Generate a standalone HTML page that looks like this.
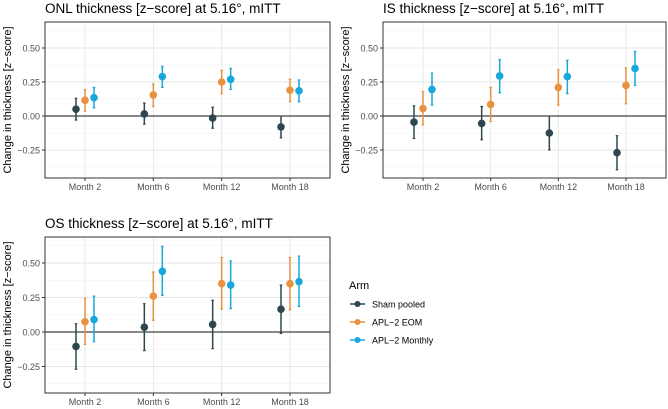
<!DOCTYPE html>
<html><head><meta charset="utf-8"><style>
body{margin:0;background:#fff;}
svg{display:block;font-family:"Liberation Sans",sans-serif;}
</style></head><body>
<svg id="chart" width="668" height="409" viewBox="0 0 668 409"></svg>
<script>
const categories=["Month 2","Month 6","Month 12","Month 18"];
const arms=["Sham pooled","APL-2 EOM","APL-2 Monthly"];
const colors=["#2e4650","#e8913f","#17a7db"];
const yTicks=[0.5,0.25,0,-0.25];
const yTickLabels=["0.50","0.25","0.00","-0.25"];
const panelTitles=["ONL thickness [z\u2212score] at 5.16°, mITT","IS thickness [z\u2212score] at 5.16°, mITT","OS thickness [z\u2212score] at 5.16°, mITT"];
// ONL
const onlSham=[0.05,0.015,-0.015,-0.08], onlShamLo=[-0.03,-0.06,-0.09,-0.16], onlShamHi=[0.13,0.095,0.065,0];
const onlEom=[0.115,0.155,0.25,0.19], onlEomLo=[0.035,0.07,0.165,0.105], onlEomHi=[0.195,0.235,0.335,0.27];
const onlMon=[0.135,0.29,0.27,0.185], onlMonLo=[0.06,0.21,0.195,0.105], onlMonHi=[0.21,0.365,0.35,0.265];
// IS
const isSham=[-0.045,-0.055,-0.125,-0.27], isShamLo=[-0.165,-0.175,-0.25,-0.395], isShamHi=[0.075,0.07,0,-0.145];
const isEom=[0.055,0.085,0.21,0.225], isEomLo=[-0.065,-0.04,0.08,0.09], isEomHi=[0.18,0.21,0.34,0.355];
const isMon=[0.195,0.295,0.29,0.35], isMonLo=[0.08,0.17,0.165,0.225], isMonHi=[0.315,0.415,0.41,0.475];
// OS
const osSham=[-0.105,0.035,0.055,0.165], osShamLo=[-0.27,-0.135,-0.12,-0.01], osShamHi=[0.06,0.205,0.23,0.34];
const osEom=[0.075,0.26,0.35,0.35], osEomLo=[-0.09,0.085,0.165,0.16], osEomHi=[0.245,0.435,0.54,0.54];
const osMon=[0.09,0.44,0.34,0.365], osMonLo=[-0.07,0.265,0.17,0.185], osMonHi=[0.26,0.62,0.515,0.55];

const panelsData=[
 [[onlSham,onlShamLo,onlShamHi],[onlEom,onlEomLo,onlEomHi],[onlMon,onlMonLo,onlMonHi]],
 [[isSham,isShamLo,isShamHi],[isEom,isEomLo,isEomHi],[isMon,isMonLo,isMonHi]],
 [[osSham,osShamLo,osShamHi],[osEom,osEomLo,osEomHi],[osMon,osMonLo,osMonHi]]
];
const NS="http://www.w3.org/2000/svg";
const svg=document.getElementById('chart');
function mk(tag,attrs,parent,text){const e=document.createElementNS(NS,tag);for(const k in attrs)e.setAttribute(k,attrs[k]);if(text!==undefined)e.textContent=text;(parent||svg).appendChild(e);return e;}
const layouts=[{l:45,r:330,t:22,b:178,zero:116,unit:136},{l:383,r:666,t:22,b:178,zero:116,unit:136},{l:45,r:330,t:237,b:393,zero:332,unit:138}];
layouts.forEach((L,pi)=>{
  const g=mk('g',{});
  
  
  const y=v=>L.zero-v*L.unit;
  const step=(L.r-L.l-80)/(categories.length-1);
  const x=i=>L.l+40+i*step;
  const t=mk('text',{x:L.l,y:L.t-9,'font-size':13.5,fill:'#000'},g,panelTitles[pi]);
  
  
  [0.625,0.375,0.125,-0.125,-0.375].forEach(v=>mk('line',{x1:L.l,x2:L.r,y1:y(v),y2:y(v),stroke:'#f0f0f0','stroke-width':0.6},g));
  yTicks.forEach(v=>mk('line',{x1:L.l,x2:L.r,y1:y(v),y2:y(v),stroke:'#e6e6e6','stroke-width':0.9},g));
  categories.forEach((c,i)=>mk('line',{x1:x(i),x2:x(i),y1:L.t,y2:L.b,stroke:'#e6e6e6','stroke-width':0.9},g));
  mk('line',{x1:L.l,x2:L.r,y1:y(0),y2:y(0),stroke:'#111','stroke-width':1.1},g);
  mk('rect',{x:L.l,y:L.t,width:L.r-L.l,height:L.b-L.t,fill:'none',stroke:'#333','stroke-width':1},g);
  yTicks.forEach((v,i)=>{mk('line',{x1:L.l-3,x2:L.l,y1:y(v),y2:y(v),stroke:'#333'},g);
    const tl=mk('text',{x:L.l-5,y:y(v)+3.5,'font-size':9,fill:'#4d4d4d','text-anchor':'end'},g,yTickLabels[i].replace('-','\u2212'));
    
    });
  categories.forEach((c,i)=>{mk('line',{x1:x(i),x2:x(i),y1:L.b,y2:L.b+3,stroke:'#333'},g);
    const tl=mk('text',{x:x(i),y:L.b+12,'font-size':9,fill:'#4d4d4d','text-anchor':'middle'},g,c);
    
    });
  const yc=(L.t+L.b)/2, ax=L.l-37;
  const at=mk('text',{x:ax,y:yc,'font-size':11,fill:'#000','text-anchor':'middle','dominant-baseline':'middle',transform:`rotate(-90 ${ax} ${yc})`},g,'Change in thickness [z\u2212score]');
  
  
  panelsData[pi].forEach((s,si)=>{
    const [m,lo,hi]=s;
    m.forEach((v,i)=>{
      const px=x(i)+(si-1)*9;
      const eb=mk('g',{},g);
      
      
      mk('line',{x1:px,x2:px,y1:y(lo[i]),y2:y(hi[i]),stroke:colors[si],'stroke-width':1.5},eb);
      mk('line',{x1:px-1.3,x2:px+1.3,y1:y(lo[i]),y2:y(lo[i]),stroke:colors[si],'stroke-width':1.2},eb);
      mk('line',{x1:px-1.3,x2:px+1.3,y1:y(hi[i]),y2:y(hi[i]),stroke:colors[si],'stroke-width':1.2},eb);
      const c=mk('circle',{cx:px,cy:y(v),r:3.8,fill:colors[si]},g);
      
      
    });
  });
});
const lg=mk('g',{});


mk('text',{x:349,y:289,'font-size':11,fill:'#000'},lg,'Arm');
arms.forEach((a,i)=>{
  const yy=304+i*18;
  const e=mk('g',{},lg);
  
  
  mk('line',{x1:350,x2:365,y1:yy,y2:yy,stroke:colors[i],'stroke-width':1.5},e);
  mk('circle',{cx:357.5,cy:yy,r:3,fill:colors[i]},e);
  mk('text',{x:372,y:yy+3.5,'font-size':9,fill:'#000'},e,a.replace('-','\u2212'));
});
</script>
</body></html>
